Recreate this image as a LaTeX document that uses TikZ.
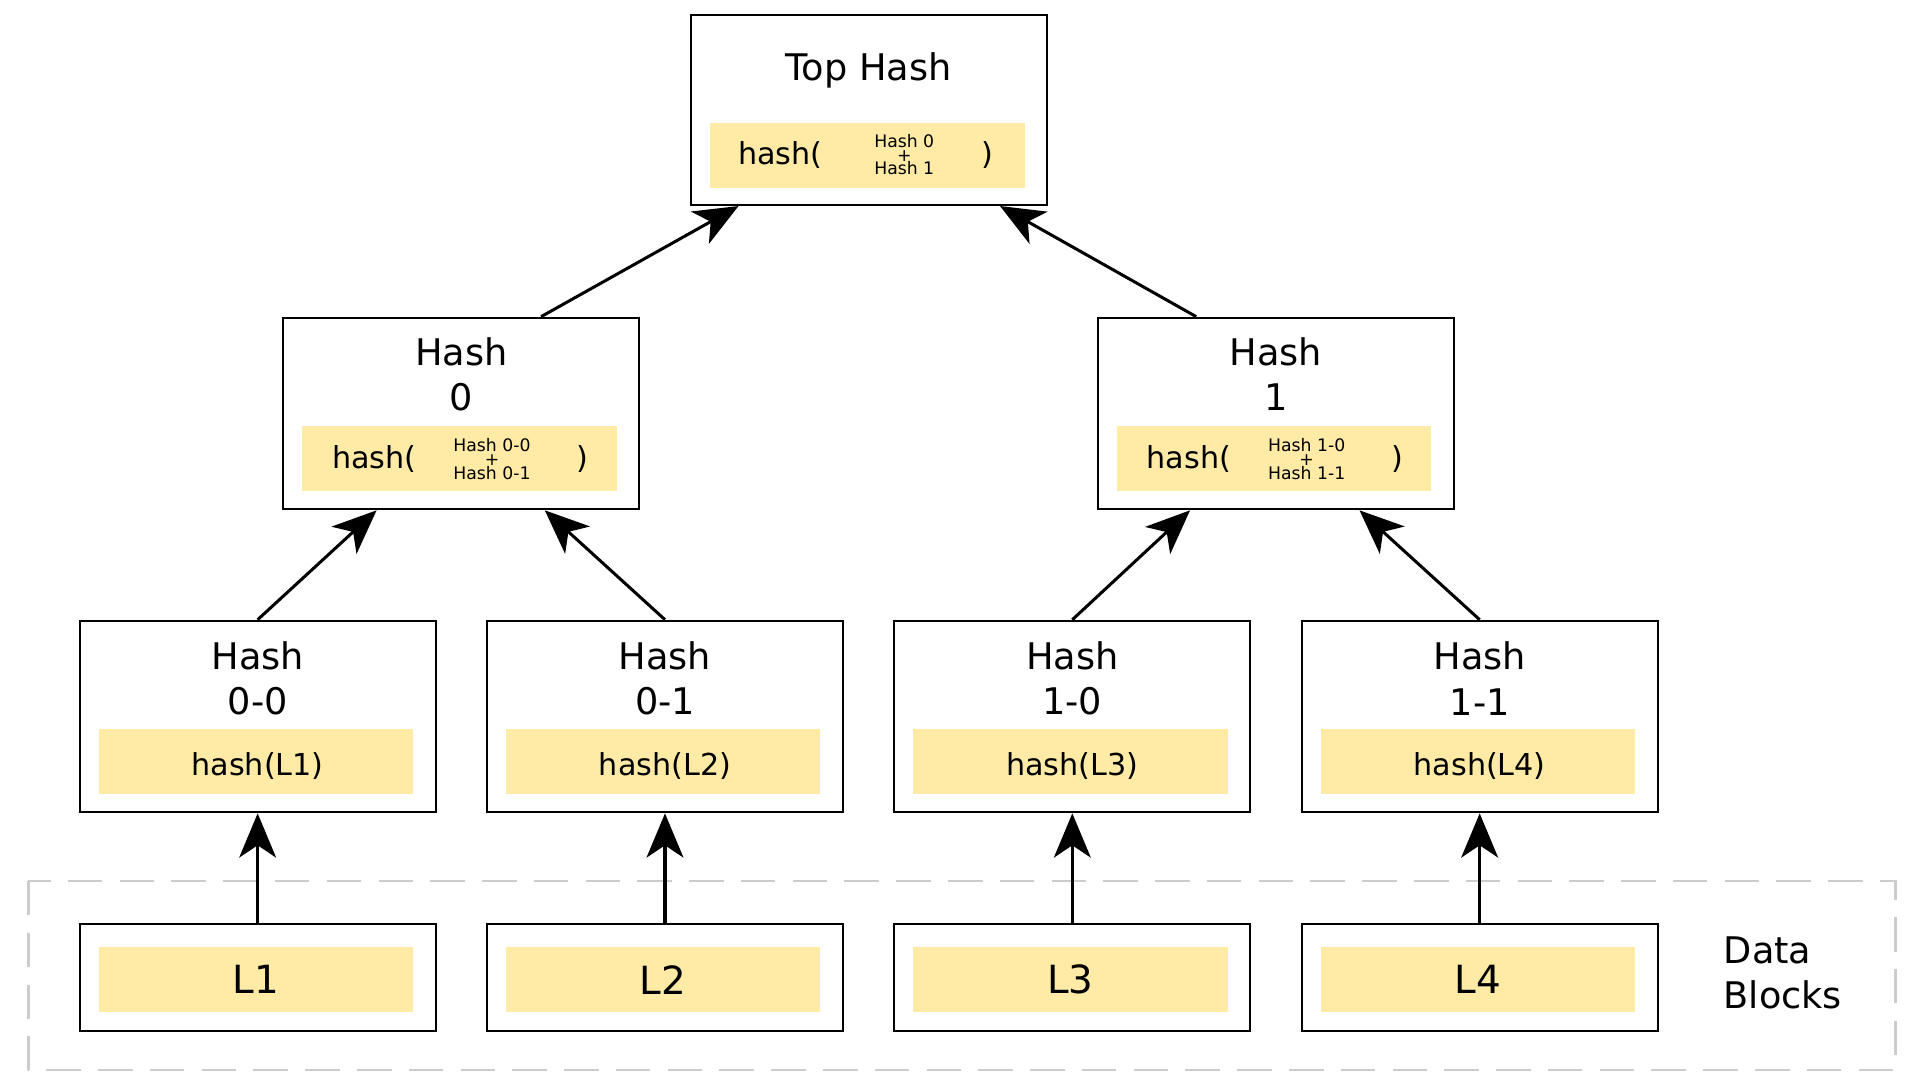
\documentclass[tikz,border=0pt]{standalone}
\usepackage{fontspec}
\setmainfont{DejaVu Sans}
\usetikzlibrary{arrows.meta,positioning}
\definecolor{hashyellow}{HTML}{FFEBA5}

\begin{document}
\begin{tikzpicture}
    [   x=0.01cm
    ,   y=-0.01cm
    ,   >={Stealth[length=0.36cm,width=0.3cm,inset=0.1cm]}
    ,   line width=0.7pt
    ,   hashbox/.style=
            {   % The shape:
                rectangle
            ,   draw=black
            ,   line width=0.5pt
            ,   minimum width=2.9cm
            ,   inner sep=0pt
            }
    ,   fillbox/.style=
            {   rectangle
            ,   fill=hashyellow
            ,   minimum width=2.56cm
            ,   minimum height=0.53cm
            ,   inner sep=0pt
            }
    ,   title/.style={align=center, font=\fontsize{8.5}{10.5}\selectfont}
    ,   code/.style={font=\fontsize{7}{8}\selectfont}
    ,   tiny/.style={align=center, font=\fontsize{4}{4.2}\selectfont}
    ]
    \useasboundingbox (0,0) rectangle (1560,884);

    % data blocks frame
    \draw[gray!40, dashed, dash pattern=on 8pt off 4pt, line width=0.6pt]
        (23,718) rectangle (1545,872);
    \node[title, align=left, anchor=west] (DB) at (1392,793) {Data\\Blocks};

    % top hash
    \node[hashbox, minimum height=1.55cm] (T) at (708,89.5) {};
    \node[fillbox] (Tf) at (707,126.5) {};
    \node[title] (Tt) at (708,57) {Top Hash};
    \node[code] at (636,126) {hash(};
    \node[tiny] at (737,126) {Hash 0\\[-1pt]+\\[-1pt]Hash 1};
    \node[code] at (805,126) {)};

    % second level
    \foreach \n/\cx/\a/\b in {0/376/0-0/0-1, 1/1040/1-0/1-1} {
        \node[hashbox, minimum height=1.56cm] (H\n) at (\cx,337) {};
        \node[fillbox] (H\n f) at (\cx-1.5,373.5) {};
        \node[title] at (\cx,305) {Hash\\\n};
        \node[code] at (\cx-71,374) {hash(};
        \node[tiny] at (\cx+25,374) {Hash \a\\[-1pt]+\\[-1pt]Hash \b};
        \node[code] at (\cx+99,374) {)};
    }

    % leaves
    \foreach \i/\cx/\lab in {1/210/0-0, 2/542/0-1, 3/874/1-0, 4/1206/1-1} {
        \node[hashbox, minimum height=1.56cm] (L\i) at (\cx,584) {};
        \node[fillbox] (L\i f) at (\cx-1.5,620.5) {};
        \node[title] at (\cx,553) {Hash\\\lab};
        \node[code] at (\cx,624) {hash(L\i)};
        \node[hashbox, minimum height=0.87cm] (D\i) at (\cx,796.5) {};
        \node[fillbox, font=\fontsize{9}{10}\selectfont] (D\i f) at (\cx-1.5,798.5) {L\i};
        \draw[->] (D\i.north) -- (L\i.south);
    }

    \draw[->] ([xshift=0.65cm]H0.north) -- ([xshift=-1.06cm]T.south);
    \draw[->] ([xshift=-0.65cm]H1.north) -- ([xshift=1.07cm]T.south);
    \draw[->] (L1.north) -- ([xshift=-0.69cm]H0.south);
    \draw[->] (L2.north) -- ([xshift=0.68cm]H0.south);
    \draw[->] (L3.north) -- ([xshift=-0.70cm]H1.south);
    \draw[->] (L4.north) -- ([xshift=0.68cm]H1.south);
\end{tikzpicture}
\end{document}
